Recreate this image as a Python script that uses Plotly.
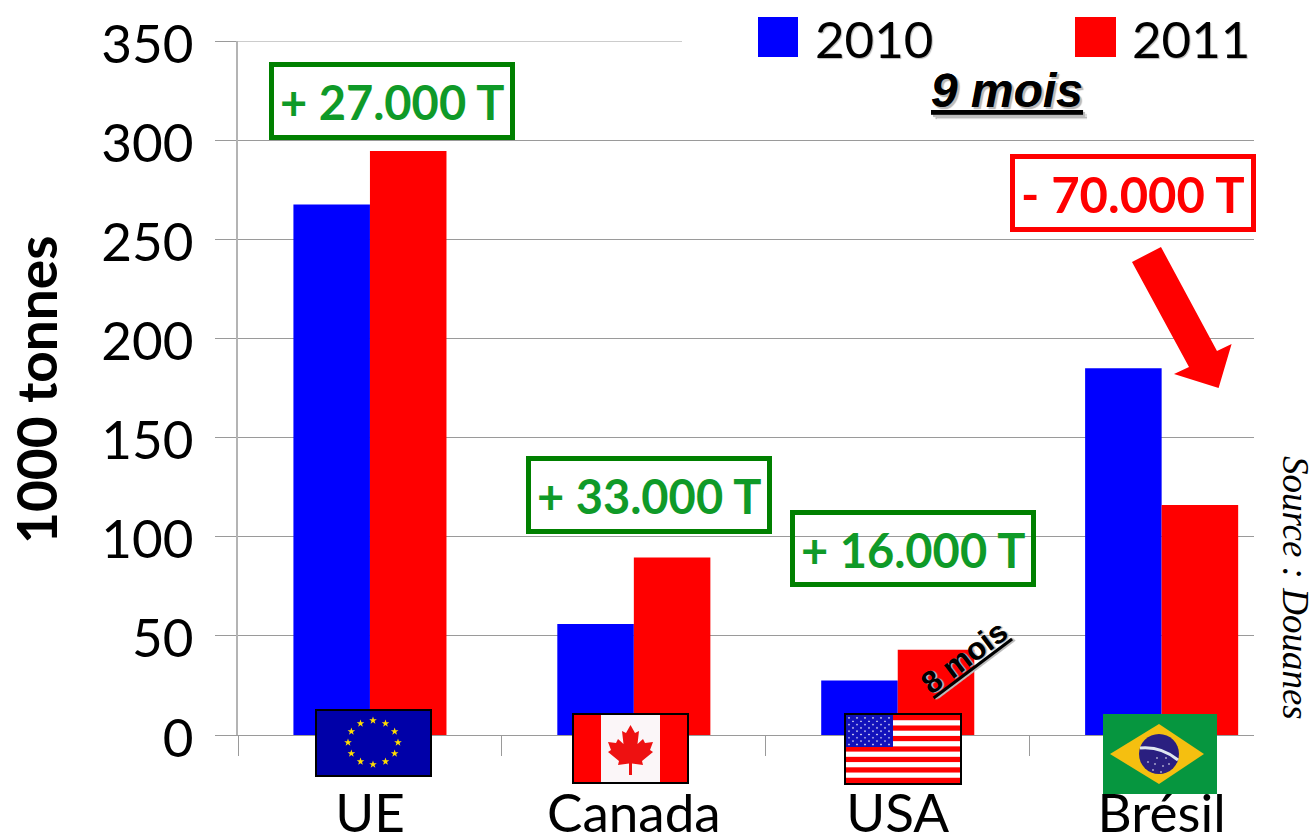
import base64
import math
import plotly.graph_objects as go

categories = ["UE", "Canada", "USA", "Brésil"]
values_2010 = [267.5, 56, 27.5, 185]
values_2011 = [294.5, 89.5, 43, 116]
y_ticks = [0, 50, 100, 150, 200, 250, 300, 350]
change_labels = ["+ 27.000 T", "+ 33.000 T", "+ 16.000 T", "- 70.000 T"]

W, H = 1314, 836
L, R, T, B = 238, 1254, 41, 735
GRID = "#9a9a9a"
BODY = "Lato"


def px(x):
    return (x - L) / (R - L)


def py(y):
    return (B - y) / (B - T)


def svg_uri(svg):
    return "data:image/svg+xml;base64," + base64.b64encode(svg.encode()).decode()


def star(cx, cy, r, fill):
    pts = []
    for i in range(10):
        a = -math.pi / 2 + i * math.pi / 5
        rr = r if i % 2 == 0 else r * 0.4
        pts.append(f"{cx + rr * math.cos(a):.2f},{cy + rr * math.sin(a):.2f}")
    return f'<polygon points="{" ".join(pts)}" fill="{fill}"/>'


def eu_flag():
    s = '<svg xmlns="http://www.w3.org/2000/svg" width="117" height="68" viewBox="0 0 117 68">'
    s += '<rect width="117" height="68" fill="#000000"/><rect x="2" y="2" width="113" height="64" fill="#0000a8"/>'
    for i in range(12):
        a = i * math.pi / 6
        s += star(58 + 25 * math.sin(a), 33.5 - 22 * math.cos(a), 4, "#ffdd00")
    return svg_uri(s + "</svg>")


def canada_flag():
    s = '<svg xmlns="http://www.w3.org/2000/svg" width="117" height="71" viewBox="0 0 117 71">'
    s += '<rect width="117" height="71" fill="#000000"/><rect x="2" y="2" width="113" height="67" fill="#fbf6f8"/>'
    s += '<rect x="2" y="2" width="27" height="67" fill="#ff0000"/><rect x="88" y="2" width="27" height="67" fill="#ff0000"/>'
    s += ('<polygon fill="#ee1111" points="58.5,12 63,20 67,18 65.5,31 71,26 73,30 81,29 78,37 81,39 '
          '70,48 71,52 60,50.5 60,62 57,62 57,50.5 46,52 47,48 36,39 39,37 36,29 44,30 46,26 51.5,31 50,18 54,20"/>')
    return svg_uri(s + "</svg>")


def usa_flag():
    s = '<svg xmlns="http://www.w3.org/2000/svg" width="118" height="72" viewBox="0 0 118 72">'
    s += '<rect width="118" height="72" fill="#000000"/><rect x="2" y="2" width="114" height="68" fill="#ffffff"/>'
    for i in range(7):
        s += f'<rect x="2" y="{2 + i * 10.46:.2f}" width="114" height="5.23" fill="#ff0000"/>'
    s += '<rect x="2" y="2" width="47" height="32" fill="#1111bb"/>'
    for r in range(9):
        n = 6 if r % 2 == 0 else 5
        off = 5 if r % 2 == 0 else 9
        for c in range(n):
            s += star(off + c * 8, 5 + r * 3.3, 1.3, "#ffffff")
    return svg_uri(s + "</svg>")


def brazil_flag():
    s = '<svg xmlns="http://www.w3.org/2000/svg" width="114" height="80" viewBox="0 0 114 80">'
    s += '<rect width="114" height="80" fill="#06963f"/>'
    s += '<polygon points="7,40 56,10 101,40 56,70" fill="#f5bf10"/>'
    s += '<circle cx="56" cy="40" r="20" fill="#2a1f80"/>'
    s += '<path d="M37,34 Q58,32 75,46" stroke="#dfe6f0" stroke-width="3" fill="none"/>'
    for x, y in [(45, 48), (52, 50), (60, 52), (66, 50), (50, 56), (58, 58), (63, 44), (54, 44)]:
        s += f'<circle cx="{x}" cy="{y}" r="0.8" fill="#ffffff"/>'
    return svg_uri(s + "</svg>")


fig = go.Figure()
fig.add_trace(go.Bar(x=categories, y=values_2010, name="2010", marker=dict(color="#0000ff", line_width=0)))
fig.add_trace(go.Bar(x=categories, y=values_2011, name="2011", marker=dict(color="#ff0000", line_width=0)))

shapes = []
annotations = []

# top gridline (stops where the legend begins)
shapes.append(dict(type="line", xref="paper", yref="y", x0=0, x1=px(682), y0=350, y1=350,
                   line=dict(color=GRID, width=1), layer="below"))


def box(x0, y0, x1, y1, color, text, tcolor, size):
    shapes.append(dict(type="rect", xref="paper", yref="paper", x0=px(x0), x1=px(x1), y0=py(y1), y1=py(y0),
                       line=dict(color=color, width=5), layer="above"))
    annotations.append(dict(xref="paper", yref="paper", x=px((x0 + x1) / 2), y=py((y0 + y1) / 2 + 1), text=text,
                            showarrow=False, xanchor="center", yanchor="middle",
                            font=dict(family=BODY, size=size, color=tcolor, weight="bold")))


box(271.5, 64.5, 512.5, 137.5, "#008000", change_labels[0], "#0f9a28", 47)
box(528.5, 458.5, 769.5, 531.5, "#008000", change_labels[1], "#0f9a28", 47)
box(792.5, 512.5, 1033.5, 584.5, "#008000", change_labels[2], "#0f9a28", 47)
box(1012.5, 156.5, 1253.5, 229.5, "#ff0000", change_labels[3], "#ff0000", 49)

# arrow
arrow = [(1161, 247), (1132, 262), (1189, 367), (1174, 374), (1218.6, 388), (1231.6, 344), (1217, 351)]
path = "M" + " L".join(f"{px(x):.5f},{py(y):.5f}" for x, y in arrow) + " Z"
shapes.append(dict(type="path", xref="paper", yref="paper", path=path, fillcolor="#ff0000", line_width=0,
                   layer="above"))

# legend
for x0, x1, lab, tx in [(758, 798, "2010", 813), (1075, 1116, "2011", 1130)]:
    shapes.append(dict(type="rect", xref="paper", yref="paper", x0=px(x0), x1=px(x1), y0=py(57), y1=py(17),
                       fillcolor="#0000ff" if lab == "2010" else "#ff0000", line_width=0, layer="above"))
    annotations.append(dict(xref="paper", yref="paper", x=px(tx), y=py(38), text=lab, showarrow=False,
                            xanchor="left", yanchor="middle",
                            font=dict(family=BODY, size=51, color="#000000", shadow="1px 1px 1px #bbbbbb")))

annotations.append(dict(xref="paper", yref="paper", x=px(1007), y=py(90), text="9 mois", showarrow=False,
                        xanchor="center", yanchor="middle",
                        font=dict(family="Liberation Sans", size=48, color="#000000", weight="bold", style="italic",
                                  lineposition="under", shadow="2px 2px 1px #bbbbbb")))
annotations.append(dict(xref="paper", yref="paper", x=px(964), y=py(657), text="8 mois", showarrow=False,
                        textangle=-37, xanchor="center", yanchor="middle",
                        font=dict(family="Liberation Sans", size=31, color="#000000", weight="bold",
                                  lineposition="under", shadow="1px 1px 1px #bbbbbb")))
annotations.append(dict(xref="paper", yref="paper", x=px(1296), y=py(588), text="Source : Douanes", showarrow=False,
                        textangle=90, xanchor="center", yanchor="middle",
                        font=dict(family="Liberation Serif", size=37, color="#000000", style="italic")))
annotations.append(dict(xref="paper", yref="paper", x=px(36), y=py(390), text="1000 tonnes", showarrow=False,
                        textangle=-90, xanchor="center", yanchor="middle",
                        font=dict(family=BODY, size=55, color="#000000", weight="bold")))

images = []
for uri, x0, x1, y0, y1 in [(eu_flag(), 315, 432, 709, 777), (canada_flag(), 572, 689, 713, 784),
                            (usa_flag(), 844, 962, 713, 785), (brazil_flag(), 1103, 1217, 714, 794)]:
    images.append(dict(source=uri, xref="paper", yref="paper", x=px(x0), y=py(y0), sizex=(x1 - x0) / (R - L),
                       sizey=(y1 - y0) / (B - T), xanchor="left", yanchor="top", sizing="stretch", layer="above"))

fig.update_layout(
    width=W, height=H, margin=dict(l=L, r=W - R, t=T, b=H - B, autoexpand=False), autosize=False,
    paper_bgcolor="#ffffff", plot_bgcolor="#ffffff", showlegend=False,
    barmode="group", bargap=0.42, bargroupgap=0,
    font=dict(family=BODY, color="#000000"),
    shapes=shapes, annotations=annotations, images=images,
    xaxis=dict(type="category", categoryorder="array", categoryarray=categories, range=[-0.5, 3.35],
               tickson="boundaries", ticks="outside", ticklen=20, tickwidth=1, tickcolor=GRID,
               showline=True, linecolor=GRID, linewidth=1, showgrid=False, zeroline=False,
               tickfont=dict(family=BODY, size=53, color="#000000"), ticklabelstandoff=32),
    yaxis=dict(range=[0, 350], tickmode="array", tickvals=y_ticks, ticks="outside", ticklen=21, tickwidth=1,
               tickcolor=GRID, showline=True, linecolor="#b4b4b4", linewidth=2, showgrid=True, gridcolor=GRID,
               gridwidth=1, zeroline=False, tickfont=dict(family=BODY, size=53, color="#000000"),
               ticklabelstandoff=11, ticklabelshift=3),
)
fig.write_html("out.html", config=dict(displayModeBar=False),
               post_script="document.body.style.margin='0';document.body.style.overflow='hidden';")
